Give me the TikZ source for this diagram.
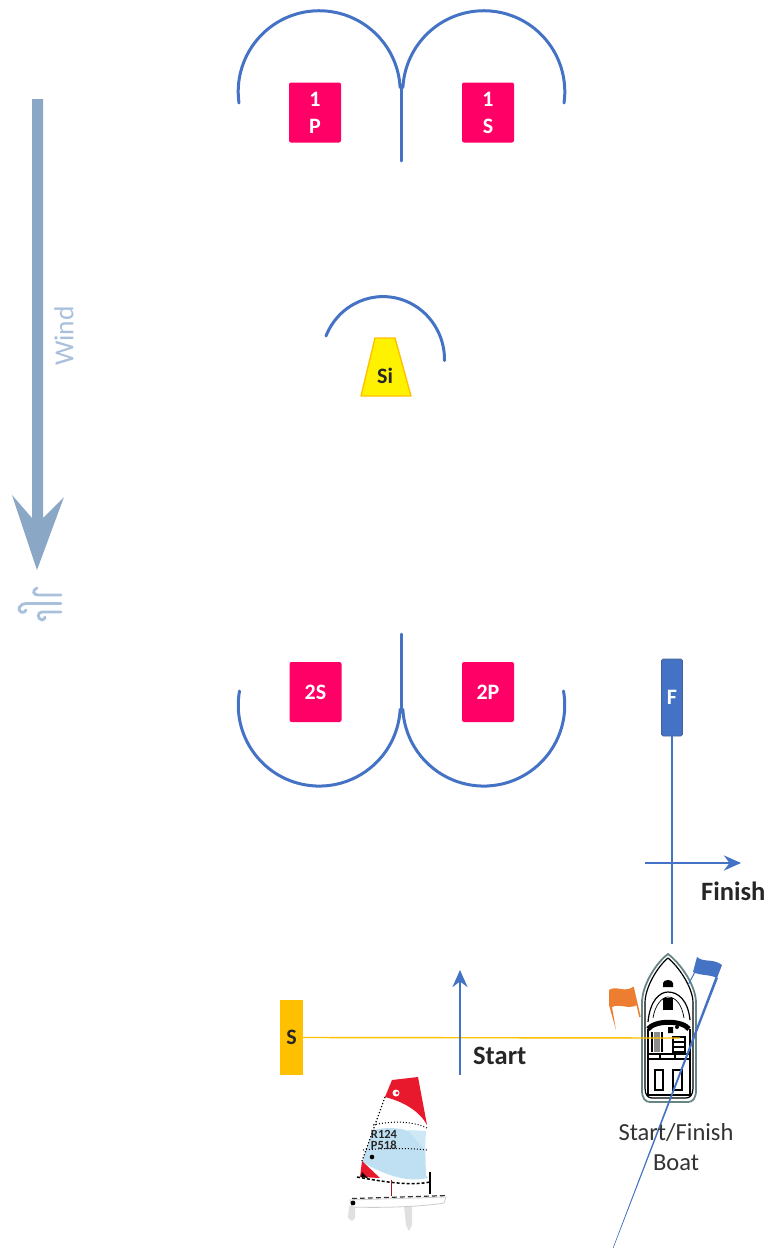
\documentclass[tikz,border=0pt]{standalone}
\usepackage{fontspec}
\setmainfont{Carlito}
\usetikzlibrary{arrows.meta}
\definecolor{mblue}{HTML}{4472C4}
\definecolor{mpink}{HTML}{FF0066}
\definecolor{mwind}{HTML}{8AA8C6}
\definecolor{mwindl}{HTML}{A9C0DC}
\definecolor{mgold}{HTML}{FFC000}
\definecolor{morange}{HTML}{ED7D31}
\definecolor{mred}{HTML}{E8192C}
\definecolor{msail}{HTML}{BFE0F2}
\tikzset{
  x=1pt,y=-1pt,
  buoytext/.style={font=\fontsize{22}{27}\selectfont\bfseries,text=white,align=center,inner sep=0pt},
  pinkbuoy/.style={buoytext,fill=mpink,rounded corners=2pt,minimum width=52pt,minimum height=60pt},
  rope/.style={draw=mblue,line width=3pt,line cap=round},
  thinblue/.style={draw=mblue,line width=1.3pt},
  flow/.style={draw=mblue,line width=2.8pt,-{Stealth[length=17pt,width=15pt]}},
  bold label/.style={font=\fontsize{26.5}{30}\selectfont\bfseries,text=black!85,inner sep=0pt},
  hullink/.style={draw=black,line width=1.2pt},
}
\begin{document}
\begin{tikzpicture}
\useasboundingbox (0,0) rectangle (769,1248);
% wind
\fill[mwind] (32,99) -- (43,99) -- (43,518) -- (64,497) -- (37,570) -- (12,495) -- (32,518) -- cycle;
\node[rotate=90,text=mwindl,font=\fontsize{27.5}{30}\selectfont,inner sep=0pt] (wind) at (64,336) {Wind};
\begin{scope}[draw=mwindl,line width=2.8pt,line cap=round]
\draw (61,595) -- (38,595) .. controls (33,595) and (32,590) .. (37,588);
\draw (61,603.5) -- (27,603.5) .. controls (19,603.5) and (17,610) .. (21,612) .. controls (24,613) and (26,611) .. (26,610);
\draw (61,612) -- (42,612) .. controls (37,612) and (37,619) .. (42,620) .. controls (44,620) and (45,618) .. (45,617);
\end{scope}
% buoys
\node[pinkbuoy] (p1) at (315,112.5) {1\\P};
\node[pinkbuoy] (s1) at (488,112.5) {1\\S};
\node[pinkbuoy] (s2) at (315.5,692) {2S};
\node[pinkbuoy] (p2) at (488,692) {2P};
\node[buoytext,fill=mblue,draw=mblue!70!black!90,line width=.6pt,rounded corners=1.5pt,minimum width=21pt,minimum height=77pt] (fin) at (672,697.5) {F};
\node[buoytext,text=black!85,fill=mgold,minimum width=23pt,minimum height=75pt] (st) at (291.5,1037.5) {S};
\filldraw[fill=yellow,draw=mgold,line width=1.4pt,line join=round] (375,338) -- (395,338) -- (411,396) -- (361,396) -- cycle;
\node[buoytext,text=black!85] (si) at (385,376) {Si};
% gates
\coordinate (t1) at (401,85);
\coordinate (t2) at (401,712);
\draw[rope] (239,103) arc[start angle=188,end angle=3,x radius=81,y radius=-81];
\draw[rope] (564,103) arc[start angle=-8,end angle=177,x radius=81,y radius=-81];
\draw[rope] (t1) -- (401,161);
\draw[rope] (239.5,691) arc[start angle=190,end angle=3,radius=81];
\draw[rope] (563.5,691) arc[start angle=-10,end angle=177,radius=81];
\draw[rope] (t2) -- (401,634);
\draw[rope] (326,336) arc[start angle=158,end angle=-1,x radius=61.5,y radius=-63];
% boat
\coordinate (boatbow) at (672,944);
\coordinate (boatmid) at (680,1038);
\filldraw[fill=white,draw=teal!40!black!60,line width=1.8pt] (668,954) .. controls (656,963) and (642,985) .. (642,1003) -- (642,1090) .. controls (642,1098) and (645,1102) .. (650,1102) -- (688,1102) .. controls (693,1102) and (696,1098) .. (696,1090) -- (696,1003) .. controls (696,985) and (680,963) .. (668,954) -- cycle;
\draw[hullink] (668,958) .. controls (658,966) and (645,987) .. (645,1003) -- (645,1088) .. controls (645,1095) and (648,1098) .. (652,1098) -- (686,1098) .. controls (690,1098) and (693,1095) .. (693,1088) -- (693,1003) .. controls (693,987) and (678,966) .. (668,958);
\fill (663,987) -- (663,983) .. controls (664,979) and (672,979) .. (673,983) -- (673,987) -- cycle;
\fill (663,998) rectangle (673,1010);
\draw[hullink] (648,1022) .. controls (650,1000) and (660,992) .. (668,992) .. controls (678,992) and (688,1000) .. (690,1020);
\draw[hullink,line width=.7pt] (653,1018) .. controls (655,1005) and (662,997) .. (668,997) .. controls (676,997) and (682,1005) .. (684,1018);
\draw[line width=5pt] (648,1029) .. controls (655,1020) and (682,1020) .. (689,1029);
\draw[hullink,line width=2pt] (648,1029) -- (648,1096) (690,1029) -- (690,1096);
\draw[hullink,line width=2pt] (652,1032) -- (652,1052) (662,1032) -- (662,1052);
\fill[black!45] (654,1032) rectangle (660,1052);
\draw[hullink] (673,1037) rectangle (685,1052) (673,1042) -- (685,1042) (673,1047) -- (685,1047);
\fill (668,1027) rectangle (673,1033) (677,1027) circle[radius=2];
\draw[line width=2.4pt] (648,1054) -- (690,1054);
\draw[hullink] (648,1059) -- (690,1059) (660,1054) -- (660,1059) (675,1054) -- (675,1059);
\draw[line width=1.3pt] (655,1070) rectangle (663,1090) (673,1070) rectangle (682,1090);
\draw[line width=2pt] (648,1095) -- (690,1095);
% flags
\fill[morange] (609,990) .. controls (616,985) and (624,993) .. (633,987) -- (637,1005) .. controls (628,1010) and (620,1003) .. (612,1007) -- (616,1030) -- (609,1005) -- cycle;
\draw[morange,line width=1.5pt] (633,987) -- (640,1017);
\fill[mblue] (697,957) .. controls (704,963) and (713,958) .. (722,965) -- (717,978) .. controls (709,974) and (701,976) .. (693,972) -- cycle;
\fill[mblue] (715.5,977) -- (718,978) -- (613.4,1248) -- (612.8,1248) -- cycle;
\draw[mblue,line width=1pt] (696,970) -- (688,985);
% connectors
\draw[mgold,line width=1.4pt] (st.east) -- (boatmid);
\draw[thinblue] (fin.south) -- (boatbow);
\draw[flow] (645,863) -- (741,863);
\draw[flow] (460,1075) -- (460,970);
\node[bold label,anchor=west] (lfin) at (701,891) {Finish};
\node[bold label,anchor=west] (lst) at (473,1056) {Start};
\node[font=\fontsize{24.5}{30}\selectfont,text=black!80,align=center,inner sep=0pt] (lboat) at (676,1147) {Start/Finish\\Boat};
% sailboat
\fill[msail] (373,1130) .. controls (395,1125) and (415,1130) .. (425,1142) -- (426,1175) -- (428,1178) .. controls (410,1182) and (390,1178) .. (362,1162) -- cycle;
\fill[msail!75] (408,1130) -- (426,1131) -- (425,1150) -- cycle;
\fill[mred] (392,1080) -- (418,1077) -- (427,1125) .. controls (420,1112) and (405,1102) .. (385,1097) -- cycle;
\fill[white] (396,1093) circle[radius=3.5];
\fill[mred] (397,1093) circle[radius=1.6];
\fill[mred] (362,1161) -- (360,1177) -- (380,1178) -- cycle;
\fill (362,1172) -- (361,1177) -- (368,1178) -- cycle;
\draw[dotted,line width=1.2pt] (385,1097) -- (362,1161);
\draw[dotted,line width=1pt] (373,1125) .. controls (395,1120) and (415,1122) .. (427,1128);
\draw[dotted,line width=1pt] (363,1150) .. controls (385,1148) and (410,1148) .. (427,1150);
\draw[densely dashed,line width=1.5pt] (357,1177) .. controls (385,1182) and (410,1186) .. (430,1182);
\draw[line width=2pt] (429.5,1172) -- (429.5,1194);
\draw[mred!70!black,line width=1pt] (391,1180) -- (391,1196);
\node[font=\fontsize{12.5}{10.5}\selectfont\bfseries,text=black!85,align=left,inner sep=0pt] (sailno) at (384,1140) {R124\\P518};
\fill (372,1157) circle[radius=2.3];
\fill[black!12] (349,1206) -- (355,1205) -- (355,1218) -- (352,1221) -- (348,1218) -- cycle;
\fill[black!12] (404,1206) -- (412,1206) -- (412,1225) -- (409,1231) -- (406,1225) -- cycle;
\filldraw[fill=white,draw=black!20,line width=.8pt] (350,1200) -- (446,1197) -- (444,1203) .. controls (420,1207) and (380,1208) .. (352,1207) -- cycle;
\draw[black!80,line width=1.2pt,dash pattern=on 5pt off 3pt] (352,1198.5) -- (447,1195.5);
\fill (353,1203) circle[radius=2.4];
\end{tikzpicture}
\end{document}
